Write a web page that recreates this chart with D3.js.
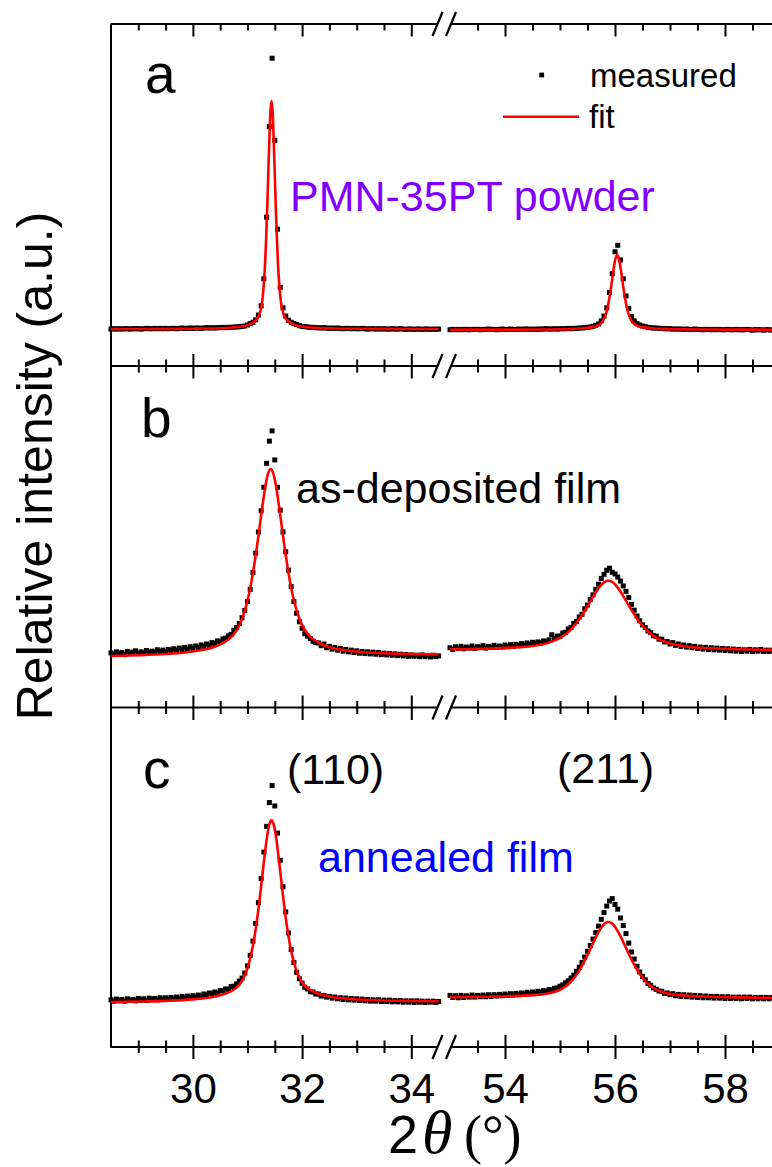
<!DOCTYPE html>
<html><head><meta charset="utf-8">
<script src="https://cdn.jsdelivr.net/npm/d3@7"></script>
<style>body{margin:0;background:#fff}</style>
</head><body>
<svg id="chart" width="772" height="1167"></svg>
<script>
// ---------------- DATA ----------------
const panelLabels = ["a", "b", "c"];
const sampleLabels = ["PMN-35PT powder", "as-deposited film", "annealed film"];
const peakLabels = ["(110)", "(211)"];
const legendLabels = ["measured", "fit"];
const xMajorLeft = [30, 32, 34];
const xMinorLeft = [29, 29.5, 30.5, 31, 31.5, 32.5, 33, 33.5];
const xMajorRight = [54, 56, 58];
const xMinorRight = [53.5, 54.5, 55, 55.5, 56.5, 57, 57.5, 58.5];

// measured scans: uniform 2θ grid
const measLeftStart = 28.5, measRightStart = 53.0, measStep = 0.05;

const measA_L = [10.8,10.9,10.8,10.9,10.8,10.9,10.9,10.8,10.9,10.9,
10.9,10.8,10.9,11.0,10.9,10.9,11.0,10.9,11.0,10.9,
11.0,10.9,11.0,11.0,10.9,11.0,11.1,11.0,11.0,11.1,
11.0,11.1,11.1,11.0,11.1,11.2,11.1,11.2,11.1,11.2,
11.2,11.3,11.2,11.3,11.3,11.4,11.4,11.5,11.6,11.7,
12.0,12.4,12.8,13.5,14.9,17.6,25.5,43.5,70.0,90.0,
66.0,40.0,23.0,17.0,14.6,13.4,12.8,12.4,12.1,11.8,
11.6,11.5,11.4,11.3,11.3,11.2,11.2,11.1,11.2,11.1,
11.0,11.1,11.0,11.1,11.0,10.9,11.0,11.0,10.9,11.0,
10.9,10.9,11.0,10.9,10.8,10.9,10.9,10.8,10.9,10.8,
10.9,10.8,10.8,10.9,10.8,10.8,10.9,10.8,10.7,10.8,
10.8,10.7,10.8,10.8,10.7,10.8,10.8,10.7,10.8,10.7,
10.8];
const measA_R = [10.6,10.7,10.6,10.7,10.6,10.7,10.7,10.6,10.7,10.7,
10.7,10.6,10.7,10.7,10.8,10.7,10.7,10.6,10.7,10.8,
10.7,10.7,10.8,10.7,10.7,10.8,10.7,10.8,10.8,10.7,
10.8,10.7,10.8,10.8,10.8,10.9,10.8,10.8,10.9,10.8,
10.9,10.9,10.9,11.0,10.9,11.0,11.0,11.1,11.1,11.2,
11.3,11.4,11.6,11.9,12.3,13.2,14.6,17.0,21.5,27.0,
33.4,35.3,31.0,25.5,20.5,16.8,14.5,13.2,12.4,12.0,
11.7,11.5,11.3,11.2,11.1,11.1,11.0,11.0,10.9,10.9,
10.9,10.8,10.8,10.8,10.8,10.7,10.8,10.7,10.7,10.8,
10.7,10.7,10.6,10.7,10.7,10.6,10.7,10.6,10.7,10.6,
10.6,10.7,10.6,10.6,10.7,10.6,10.6,10.6,10.7,10.6,
10.5,10.6,10.6,10.6,10.5,10.6,10.6,10.5];
const measB_L = [16.0,15.6,16.3,15.8,16.1,15.5,16.4,15.9,16.2,16.6,
15.8,16.3,16.0,16.7,16.1,16.5,16.2,16.9,16.3,16.8,
16.4,17.0,16.6,17.2,16.8,17.4,16.9,17.6,17.1,17.8,
17.3,18.0,17.6,18.3,17.9,18.6,18.2,19.0,18.7,19.5,
19.2,20.1,20.3,21.0,21.4,22.6,23.4,24.6,26.3,28.4,
31.0,34.6,39.5,45.2,51.4,57.6,64.5,71.5,78.0,81.0,
72.5,64.5,57.8,51.4,45.6,40.2,35.4,31.0,27.6,25.1,
23.2,21.6,20.9,20.2,19.4,19.0,18.9,18.1,18.6,17.5,
17.9,17.1,17.6,16.8,17.3,16.5,17.0,16.3,16.8,16.1,
16.6,15.9,16.4,15.8,16.3,15.7,16.2,15.6,16.1,15.5,
15.9,15.4,15.8,15.3,15.7,15.2,15.6,15.1,15.5,15.0,
15.4,15.0,15.3,14.9,15.4,14.9,15.2,14.8,15.3,14.9,
15.1];
const measB_R = [17.5,17.0,17.8,17.3,17.9,17.2,17.7,17.4,18.0,17.3,
17.8,17.5,18.1,17.4,17.9,17.6,18.2,17.6,18.0,17.7,
18.3,17.8,18.4,17.9,18.5,18.1,18.7,18.3,18.9,18.5,
19.1,18.8,19.2,18.9,19.5,19.3,19.8,21.3,20.2,20.9,
20.9,21.8,22.0,23.0,23.4,24.6,25.2,26.5,27.3,28.9,
30.0,31.6,33.0,34.6,36.1,37.8,39.0,40.2,40.8,39.6,
39.1,38.2,37.0,35.6,34.0,32.2,30.2,28.5,26.8,25.4,
24.2,23.4,22.4,21.9,21.0,20.9,20.0,20.0,19.2,19.3,
18.6,19.0,18.2,18.6,17.9,18.3,17.7,18.1,17.5,17.9,
17.3,17.7,17.1,17.6,17.0,17.5,16.9,17.4,16.8,17.3,
16.7,17.2,16.6,17.1,16.5,17.0,16.4,16.9,16.5,17.0,
16.4,16.9,16.5,17.0,16.4,16.8,16.4,16.8];
const measC_L = [13.9,13.5,14.1,13.6,14.0,13.5,14.2,13.7,14.0,13.6,
14.3,13.8,14.2,13.7,14.4,13.9,14.3,13.9,14.5,14.0,
14.5,14.1,14.6,14.2,14.7,14.3,14.9,14.4,15.0,14.6,
15.1,14.8,15.3,15.0,15.6,15.3,15.9,15.6,16.2,15.9,
16.6,16.5,17.1,17.0,17.8,17.9,18.6,19.4,20.3,21.8,
23.9,27.0,31.2,36.4,42.5,49.6,57.4,65.0,72.0,77.0,
71.0,63.0,55.0,47.2,39.8,33.6,28.7,24.9,22.0,20.1,
18.8,17.6,17.1,16.3,16.2,15.6,15.6,15.0,15.2,14.7,
14.9,14.4,14.7,14.2,14.5,14.0,14.4,13.9,14.3,13.8,
14.2,13.7,14.1,13.6,14.0,13.5,13.9,13.5,13.9,13.4,
13.8,13.4,13.8,13.3,13.7,13.3,13.7,13.2,13.6,13.2,
13.6,13.1,13.6,13.2,13.5,13.1,13.5,13.2,13.5,13.1,
13.4];
const measC_R = [15.2,14.6,15.1,14.5,15.2,14.6,15.1,14.7,15.3,14.7,
15.2,14.8,15.3,14.8,15.4,14.9,15.4,15.0,15.5,15.1,
15.6,15.2,15.7,15.3,15.8,15.4,15.9,15.6,16.1,15.7,
16.2,15.9,16.4,16.1,16.6,16.4,16.9,16.8,17.3,17.4,
17.9,18.3,18.9,19.5,20.3,21.2,22.3,23.5,24.9,26.5,
28.2,29.9,31.8,33.7,35.6,37.6,39.6,41.5,43.0,43.7,
42.0,40.6,38.0,35.8,33.4,30.6,28.0,25.9,23.8,22.1,
20.8,19.8,18.7,18.2,17.4,17.0,16.5,16.4,15.8,15.9,
15.4,15.7,15.1,15.5,14.9,15.4,14.8,15.3,14.7,15.2,
14.6,15.1,14.5,15.0,14.5,14.9,14.4,14.9,14.4,14.8,
14.3,14.8,14.3,14.7,14.3,14.7,14.2,14.7,14.3,14.7,
14.2,14.6,14.2,14.6,14.2,14.6,14.2,14.6];

// fitted curves: [2θ, intensity]
const fitA_L = [[28.5,10.83],[29.0,10.84],[29.5,10.86],[30.0,10.91],[30.5,11.06],[30.9,11.57],[31.08,12.5],[31.16,13.5],[31.22,15.2],[31.26,17.9],[31.29,22.1],[31.32,29.4],[31.34,36.6],[31.36,45.6],[31.38,55.9],[31.40,66.2],[31.42,74.4],[31.44,77.5],[31.46,74.4],[31.48,66.2],[31.50,55.9],[31.52,45.6],[31.54,36.6],[31.56,29.4],[31.59,22.1],[31.62,17.9],[31.66,15.2],[31.72,13.5],[31.80,12.5],[31.94,11.7],[32.24,11.15],[32.6,10.97],[33.0,10.89],[33.5,10.86],[34.0,10.84],[34.5,10.83]];
const fitA_R = [[53.0,10.62],[53.5,10.63],[54.0,10.64],[54.5,10.67],[55.0,10.76],[55.24,10.86],[55.44,11.06],[55.56,11.3],[55.64,11.57],[55.72,12.16],[55.76,12.75],[55.80,13.8],[55.84,15.5],[55.88,18.3],[55.92,22.1],[55.96,26.6],[56.00,30.75],[56.04,32.5],[56.08,30.75],[56.12,26.6],[56.16,22.1],[56.20,18.3],[56.24,15.5],[56.28,13.8],[56.32,12.75],[56.36,12.16],[56.44,11.57],[56.52,11.3],[56.64,11.06],[56.84,10.86],[57.24,10.72],[57.6,10.67],[58.0,10.64],[58.5,10.63],[58.9,10.62]];
const fitB_L = [[28.5,15.09],[29.0,15.3],[29.5,15.66],[30.0,16.4],[30.4,17.8],[30.55,18.83],[30.7,20.6],[30.8,22.6],[30.9,25.9],[31.0,31.3],[31.1,39.4],[31.2,50.2],[31.275,59.2],[31.325,64.6],[31.375,68.4],[31.425,69.85],[31.475,68.4],[31.525,64.6],[31.575,59.25],[31.65,50.3],[31.75,39.45],[31.85,31.4],[31.95,26.0],[32.05,22.7],[32.15,20.7],[32.3,19.0],[32.45,17.95],[32.9,16.54],[33.5,15.87],[34.0,15.66],[34.5,15.56]];
const fitB_R = [[53.0,17.04],[53.5,17.18],[54.0,17.45],[54.5,18.03],[54.8,19.0],[55.0,20.36],[55.1,21.45],[55.2,22.9],[55.35,25.82],[55.5,29.62],[55.6,32.38],[55.7,34.9],[55.78,36.39],[55.83,36.95],[55.88,37.13],[55.93,36.95],[55.98,36.39],[56.06,34.89],[56.16,32.36],[56.26,29.6],[56.41,25.8],[56.56,22.87],[56.66,21.41],[56.76,20.31],[56.96,18.94],[57.26,17.96],[57.76,17.35],[58.26,17.06],[58.9,16.86]];
const fitC_L = [[28.5,13.26],[29.0,13.39],[29.5,13.6],[30.0,14.03],[30.4,14.86],[30.7,16.45],[30.8,17.55],[30.9,19.51],[31.0,23.23],[31.1,29.88],[31.17,36.94],[31.23,44.58],[31.29,53.05],[31.35,61.01],[31.40,65.57],[31.44,66.8],[31.48,65.57],[31.53,61.01],[31.59,53.05],[31.65,44.6],[31.71,36.95],[31.78,29.9],[31.88,23.26],[31.98,19.55],[32.08,17.61],[32.18,16.51],[32.48,14.94],[32.94,14.07],[33.5,13.71],[34.0,13.57],[34.5,13.49]];
const fitC_R = [[53.0,14.7],[53.5,14.77],[54.0,14.93],[54.5,15.27],[54.8,15.85],[55.0,16.87],[55.1,17.86],[55.2,19.29],[55.35,22.51],[55.5,27.12],[55.6,30.58],[55.7,33.85],[55.78,35.82],[55.83,36.56],[55.88,36.8],[55.93,36.56],[55.98,35.82],[56.06,33.84],[56.16,30.57],[56.26,27.11],[56.41,22.5],[56.56,19.24],[56.66,17.81],[56.76,16.81],[56.96,15.78],[57.26,15.18],[57.76,14.8],[58.26,14.61],[58.9,14.48]];

const measured = [[measA_L, measA_R], [measB_L, measB_R], [measC_L, measC_R]];
const fits = [[fitA_L, fitA_R], [fitB_L, fitB_R], [fitC_L, fitC_R]];

// ---------------- LAYOUT ----------------
const W = 772, H = 1167;
const FONT = "'Liberation Sans', Arial, Helvetica, sans-serif";
const SERIF = "'Liberation Serif', 'Times New Roman', serif";
const svg = d3.select("#chart");
svg.append("rect").attr("width", W).attr("height", H).attr("fill", "#fff");

const xL = d3.scaleLinear().domain([28.5, 34.5]).range([111, 438.6]);
const xR = d3.scaleLinear().domain([53, 59]).range([450, 780]);
const panelTops = [24, 366, 707.5], panelBottoms = [366, 707.5, 1047];
const yScales = panelTops.map((t, i) => d3.scaleLinear().domain([0, 100]).range([panelBottoms[i], t]));
const axisX = 110.5;

// ---------------- AXES ----------------
const axesG = svg.append("g").attr("class", "axes");
const hLines = [24, 366, 707.5, 1047];
const segs = [
  {s: xL, maj: xMajorLeft, min: xMinorLeft, from: axisX, to: 437},
  {s: xR, maj: xMajorRight, min: xMinorRight, from: 452, to: W}
];
function styleAxis(g) {
  g.select(".domain").remove();
  g.selectAll(".tick line").attr("stroke", "#000").attr("stroke-width", 2);
}
hLines.forEach((y, li) => {
  segs.forEach(seg => {
    axesG.append("line").attr("x1", seg.from).attr("x2", seg.to)
      .attr("y1", y).attr("y2", y).attr("stroke", "#000").attr("stroke-width", 2);
    const isTop = li < 3;
    const isBottom = li > 0;
    if (isTop) {
      axesG.append("g").attr("transform", `translate(0,${y})`)
        .call(d3.axisTop(seg.s).tickValues(seg.maj).tickSize(-12.5).tickSizeOuter(0).tickFormat(""))
        .call(styleAxis);
      axesG.append("g").attr("transform", `translate(0,${y})`)
        .call(d3.axisTop(seg.s).tickValues(seg.min).tickSize(-6.5).tickSizeOuter(0).tickFormat(""))
        .call(styleAxis);
    }
    if (isBottom) {
      axesG.append("g").attr("transform", `translate(0,${y})`)
        .call(d3.axisBottom(seg.s).tickValues(seg.maj).tickSize(-12).tickSizeOuter(0).tickFormat(""))
        .call(styleAxis);
      axesG.append("g").attr("transform", `translate(0,${y})`)
        .call(d3.axisBottom(seg.s).tickValues(seg.min).tickSize(-6.5).tickSizeOuter(0).tickFormat(""))
        .call(styleAxis);
    }
    if (li === 3) {
      const g = axesG.append("g").attr("transform", `translate(0,${y})`)
        .call(d3.axisBottom(seg.s).tickValues(seg.maj).tickSize(12).tickPadding(14).tickSizeOuter(0).tickFormat(d3.format("d")))
        .call(styleAxis);
      g.selectAll(".tick text").attr("font-family", FONT).attr("font-size", 42).attr("fill", "#000");
      axesG.append("g").attr("transform", `translate(0,${y})`)
        .call(d3.axisBottom(seg.s).tickValues(seg.min).tickSize(6).tickSizeOuter(0).tickFormat(""))
        .call(styleAxis);
    }
  });
  [437.5, 451].forEach(cx => {
    axesG.append("line").attr("x1", cx - 5).attr("y1", y + 12).attr("x2", cx + 5).attr("y2", y - 12)
      .attr("stroke", "#000").attr("stroke-width", 2.2);
  });
});
yScales.forEach(ys => {
  axesG.append("g").attr("transform", `translate(${axisX},0)`)
    .call(d3.axisLeft(ys).tickValues([]).tickSizeOuter(0))
    .call(g => g.select(".domain").attr("stroke", "#000").attr("stroke-width", 2));
});

// ---------------- DATA MARKS ----------------
const dataG = svg.append("g");
const sq = 5;
measured.forEach((pair, pi) => {
  const ys = yScales[pi];
  pair.forEach((vals, si) => {
    const xs = si === 0 ? xL : xR;
    const start = si === 0 ? measLeftStart : measRightStart;
    const pts = vals.map((v, i) => [start + i * measStep, v]);
    dataG.append("g").selectAll("rect").data(pts).join("rect")
      .attr("x", d => xs(d[0]) - sq / 2).attr("y", d => ys(d[1]) - sq / 2)
      .attr("width", sq).attr("height", sq).attr("fill", "#000");
  });
});
fits.forEach((pair, pi) => {
  const ys = yScales[pi];
  pair.forEach((pts, si) => {
    const xs = si === 0 ? xL : xR;
    const line = d3.line().x(d => xs(d[0])).y(d => ys(d[1])).curve(d3.curveMonotoneX);
    dataG.append("path").datum(pts).attr("d", line)
      .attr("fill", "none").attr("stroke", "#ff0000").attr("stroke-width", 2.6).attr("stroke-linejoin", "round");
  });
});

// ---------------- TEXT ----------------
const tG = svg.append("g").attr("font-family", FONT).attr("fill", "#000");
[[145, 93], [141, 437], [143, 788]].forEach((p, i) => {
  tG.append("text").attr("x", p[0]).attr("y", p[1]).attr("font-size", 55).text(panelLabels[i]);
});
tG.append("text").attr("x", 290).attr("y", 211).attr("font-size", 43).attr("fill", "#8000ff").text(sampleLabels[0]);
tG.append("text").attr("x", 296).attr("y", 503).attr("font-size", 43).text(sampleLabels[1]);
tG.append("text").attr("x", 318).attr("y", 872).attr("font-size", 43).attr("fill", "#0000ff").text(sampleLabels[2]);
tG.append("text").attr("x", 287).attr("y", 784).attr("font-size", 43).text(peakLabels[0]);
tG.append("text").attr("x", 557).attr("y", 783).attr("font-size", 43).text(peakLabels[1]);

// legend
tG.append("rect").attr("x", 541.7 - 2.4).attr("y", 75 - 2.4).attr("width", 4.8).attr("height", 4.8).attr("fill", "#000");
tG.append("text").attr("x", 590).attr("y", 87).attr("font-size", 33).text(legendLabels[0]);
tG.append("line").attr("x1", 503).attr("x2", 579).attr("y1", 116.7).attr("y2", 116.7)
  .attr("stroke", "#ff0000").attr("stroke-width", 2.6);
tG.append("text").attr("x", 589).attr("y", 128).attr("font-size", 33).text(legendLabels[1]);

// axis titles
tG.append("text").attr("transform", "translate(52,466) rotate(-90)").attr("text-anchor", "middle")
  .attr("font-size", 50).text("Relative intensity (a.u.)");
const xt = tG.append("text").attr("y", 1153).attr("font-size", 54);
xt.append("tspan").attr("x", 388).attr("font-family", FONT).text("2");
xt.append("tspan").attr("x", 422).attr("font-family", SERIF).attr("font-style", "italic").attr("font-size", 62).text("θ");
xt.append("tspan").attr("x", 464).attr("font-family", SERIF).text("(°)");
</script>
</body></html>
